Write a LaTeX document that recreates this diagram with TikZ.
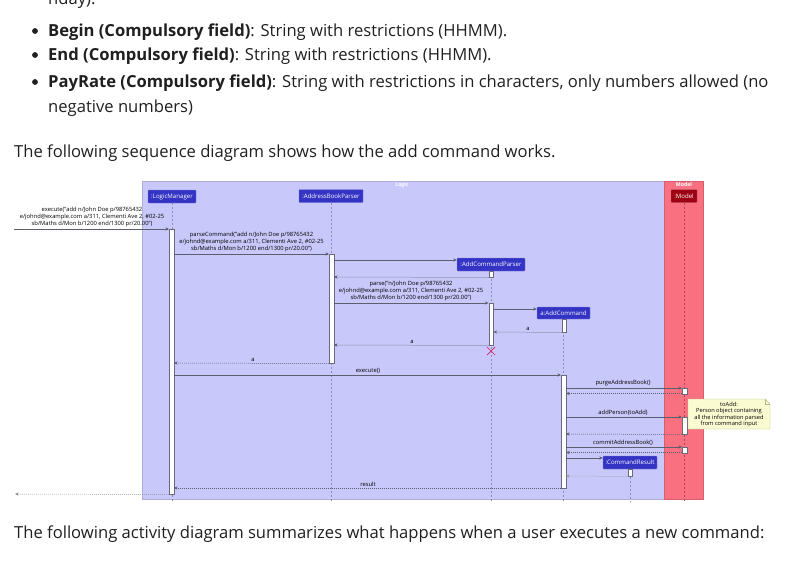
\documentclass[tikz,border=0pt]{standalone}
\usepackage{fontspec}
\setmainfont{Open Sans}
\usetikzlibrary{arrows.meta,shapes.misc}
\definecolor{bodytext}{HTML}{1F1F1F}
\definecolor{logicC}{HTML}{3333C4}
\definecolor{logicT}{HTML}{C8C8FA}
\definecolor{logicB}{HTML}{ADADD8}
\definecolor{modelC}{HTML}{9D0012}
\definecolor{modelT}{HTML}{F97181}
\definecolor{arrowC}{HTML}{5E5E6E}
\definecolor{lifeC}{HTML}{8C8CB4}
\definecolor{lifeM}{HTML}{B04858}
\definecolor{actB}{HTML}{6A6A78}
\definecolor{xcol}{HTML}{D0205E}
\definecolor{noteF}{HTML}{FBFBD2}
\definecolor{noteB}{HTML}{B8B890}
\begin{document}
\begin{tikzpicture}[x=1pt,y=-1pt,
  body/.style={anchor=base west, inner sep=0, font=\fontsize{16.6}{20}\selectfont, text=bodytext},
  part/.style={fill=logicC, draw=logicC!60!white, line width=0.4pt, text=white, inner sep=0,
    font=\fontsize{6.1}{7}\selectfont, minimum height=13pt, rounded corners=0.6pt},
  act/.style={draw=actB, fill=white, line width=0.5pt, inner sep=0, minimum width=4.5pt, anchor=north},
  msg/.style={draw=arrowC, line width=0.5pt, -{Stealth[length=3.6pt,width=3.2pt]}},
  ret/.style={msg, dash pattern=on 1pt off 1pt},
  lifeline/.style={draw=lifeC, dash pattern=on 2pt off 2pt, line width=0.45pt},
  lbl/.style={font=\fontsize{5.8}{7}\selectfont, align=center, text=black, inner sep=0, anchor=south},
  hdr/.style={font=\bfseries\fontsize{5.2}{6}\selectfont, text=white, inner sep=0}
]
\useasboundingbox (0,0) rectangle (797,583);

% ---------- page text ----------
\node[body] (t0) at (48,5) {nday).};
\fill[bodytext] (35,31) circle (2.9);
\node[body] (t1) at (48,36.5) {\textbf{Begin (Compulsory field)}: String with restrictions (HHMM).};
\fill[bodytext] (35,55) circle (2.9);
\node[body] (t2) at (48,60.5) {\textbf{End (Compulsory field)}: String with restrictions (HHMM).};
\fill[bodytext] (35,82) circle (2.9);
\node[body] (t3) at (48,87.5) {\textbf{PayRate (Compulsory field)}: String with restrictions in characters, only numbers allowed (no};
\node[body] (t4) at (48,112.5) {negative numbers)};
\node[body] (t5) at (14,157.5) {The following sequence diagram shows how the add command works.};
\node[body] (t6) at (14,538.5) {The following activity diagram summarizes what happens when a user executes a new command:};

% ---------- boxes ----------
\filldraw[fill=logicT, draw=logicB, line width=0.5pt] (142,181) rectangle (664,499);
\filldraw[fill=modelT, draw=modelT!85!black, line width=0.5pt] (664,181) rectangle (703,499);
\node[hdr] (logicH) at (402,185) {Logic};
\node[hdr] (modelH) at (684,185) {Model};

% ---------- participants ----------
\node[part, minimum width=48pt] (lm) at (172,196.5) {:LogicManager};
\node[part, minimum width=64pt] (abp) at (331,196) {:AddressBookParser};
\node[part, minimum width=26pt, fill=modelC, draw=modelC!60!white] (model) at (684,196) {:Model};
\node[part, minimum width=68pt] (acp) at (491,264.5) {:AddCommandParser};
\node[part, minimum width=53pt, minimum height=12pt] (ac) at (563.5,313) {a:AddCommand};
\node[part, minimum width=54pt] (cr) at (630,462.5) {:CommandResult};

% ---------- lifelines ----------
\coordinate (bot) at (0,502);
\draw[lifeline] (lm.south) -- (lm.south |- bot);
\draw[lifeline] (abp.south) -- (abp.south |- bot);
\draw[lifeline] (acp.south) -- (acp.south |- bot);
\draw[lifeline] (ac.south) -- (ac.south |- bot);
\draw[lifeline] (cr.south) -- (cr.south |- bot);
\draw[lifeline, draw=lifeM] (model.south) -- (model.south |- bot);

% ---------- activations ----------
\node[act, minimum height=265pt] (lmA) at (171.5,229) {};
\node[act, minimum height=109pt] (abpA) at (331.5,254) {};
\node[act, minimum height=6pt] (acpA1) at (491,271) {};
\node[act, minimum height=42pt] (acpA2) at (491,303) {};
\node[act, minimum height=13pt] (acA1) at (564,319) {};
\node[act, minimum height=113pt] (acA2) at (563.5,375) {};
\node[act, minimum height=6pt] (mA1) at (684.5,388) {};
\node[act, minimum height=17pt] (mA2) at (684.5,417) {};
\node[act, minimum height=6pt] (mA3) at (684.5,447) {};
\node[act, minimum height=7pt] (crA) at (630,469) {};

% ---------- message rows ----------
\coordinate (inStart) at (14,229);
\coordinate (r1) at (0,254);
\coordinate (r2) at (0,260);
\coordinate (r3) at (0,277);
\coordinate (r4) at (0,303);
\coordinate (r5) at (0,309);
\coordinate (r6) at (0,332);
\coordinate (r7) at (0,345);
\coordinate (r8) at (0,363);
\coordinate (r9) at (0,375);
\coordinate (r10) at (0,388);
\coordinate (r11) at (0,393.5);
\coordinate (r12) at (0,417);
\coordinate (r13) at (0,434);
\coordinate (r14) at (0,447);
\coordinate (r15) at (0,452.5);
\coordinate (r16) at (0,458);
\coordinate (r17) at (0,476);
\coordinate (r18) at (0,488);
\coordinate (outEnd) at (15,494);

\draw[msg] (inStart) -- (lmA.west |- inStart);
\node[lbl] (l0) at (92,227.5) {execute("add n/John Doe p/98765432\\e/johnd@example.com a/311, Clementi Ave 2, \#02-25\\sb/Maths d/Mon b/1200 end/1300 pr/20.00")};

\draw[msg] (lmA.east |- r1) -- (abpA.west |- r1);
\node[lbl] (l1) at (251.5,252.5) {parseCommand("add n/John Doe p/98765432\\e/johnd@example.com a/311, Clementi Ave 2, \#02-25\\sb/Maths d/Mon b/1200 end/1300 pr/20.00")};

\draw[msg] (abpA.east |- r2) -- (acp.west |- r2);
\draw[ret] (acpA1.south west) -- (abpA.east |- r3);

\draw[msg] (abpA.east |- r4) -- (acpA2.west |- r4);
\node[lbl] (l4) at (411,301.5) {parse("n/John Doe p/98765432\\e/johnd@example.com a/311, Clementi Ave 2, \#02-25\\sb/Maths d/Mon b/1200 end/1300 pr/20.00")};

\draw[msg] (acpA2.east |- r5) -- (ac.west |- r5);
\draw[ret] (acA1.south west) -- (acpA2.east |- r6);
\node[lbl] (l6) at (528,330.5) {a};
\draw[ret] (acpA2.south west) -- (abpA.east |- r7);
\node[lbl] (l7) at (412,343.5) {a};
\node[cross out, draw=xcol, line width=0.7pt, minimum size=7.5pt, inner sep=0] (destroy) at (491,351) {};
\draw[ret] (abpA.south west) -- (lmA.east |- r8);
\node[lbl] (l8) at (253,361.5) {a};

\draw[msg] (lmA.east |- r9) -- (acA2.west |- r9);
\node[lbl] (l9) at (368,373.5) {execute()};

\draw[msg] (acA2.east |- r10) -- (mA1.west |- r10);
\node[lbl] (l10) at (623,386.5) {purgeAddressBook()};
\draw[ret] (mA1.west |- r11) -- (acA2.east |- r11);

\draw[msg] (acA2.east |- r12) -- (mA2.west |- r12);
\node[lbl] (l12) at (623,415.5) {addPerson(toAdd)};
\draw[ret] (mA2.south west) -- (acA2.east |- r13);

\draw[msg] (acA2.east |- r14) -- (mA3.west |- r14);
\node[lbl] (l14) at (623,445.5) {commitAddressBook()};
\draw[ret] (mA3.west |- r15) -- (acA2.east |- r15);

\draw[msg] (acA2.east |- r16) -- (cr.west |- r16);
\draw[ret, draw=arrowC!60] (crA.south west) -- (acA2.east |- r17);

\draw[ret] (acA2.west |- r18) -- (lmA.east |- r18);
\node[lbl] (l18) at (368,486.5) {result};
\draw[ret, draw=arrowC!70] (lmA.south west) -- (outEnd);

% ---------- note ----------
\filldraw[fill=noteF, draw=noteB, line width=0.4pt] (688,399) -- (765,399) -- (770,404) -- (770,429) -- (688,429) -- cycle;
\draw[noteB, line width=0.4pt] (765,399) -- (765,404) -- (770,404);
\node[font=\fontsize{5.7}{6.6}\selectfont, align=center, inner sep=0, text=black] (note) at (729,414.5) {toAdd:\\Person object containing\\all the information parsed\\from command input};
\end{tikzpicture}
\end{document}
